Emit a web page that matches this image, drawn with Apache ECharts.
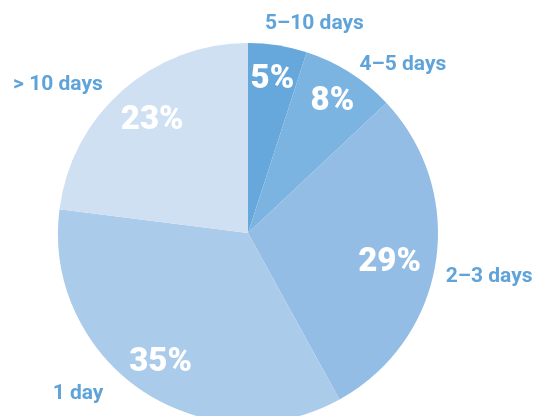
<!DOCTYPE html>
<html><head><meta charset="utf-8">
<script src="https://cdn.jsdelivr.net/npm/echarts@6/dist/echarts.min.js"></script>
<style>html,body{margin:0;padding:0;background:#fff}#c{width:534px;height:416px}</style>
</head><body><div id="c"></div>
<script>
const categories = ['5–10 days', '4–5 days', '2–3 days', '1 day', '> 10 days'];
const values = [5, 8, 29, 35, 23];
const colors = ['#66a8dc', '#7cb4e1', '#94bde5', '#aacbea', '#cee0f2'];
const outerOffsets = [[30, 21], [30, 28], [11, 7], [-39, -32], [-36, 27]];
const innerOffsets = [[0, 0], [1, 0], [-12, 5], [0, 1], [7, 4]];

const chart = echarts.init(document.getElementById('c'), null, {renderer: 'canvas'});
const font = 'Roboto';
const base = categories.map((c, i) => ({name: c, value: values[i], itemStyle: {color: colors[i]}}));
chart.setOption({
  animation: false,
  series: [
    {
      type: 'pie', center: [248, 233], radius: [0, 190], startAngle: 90, silent: true,
      data: base, label: {show: false}, labelLine: {show: false}
    },
    {
      type: 'pie', center: [248, 233], radius: [115, 190], startAngle: 90, silent: true,
      data: categories.map((c, i) => ({name: c, value: values[i], itemStyle: {color: 'transparent'},
        label: {offset: innerOffsets[i]}})),
      label: {show: true, position: 'inside', formatter: p => p.value + '%', color: '#fff',
        fontFamily: font, fontWeight: 900, fontSize: 33},
      labelLine: {show: false}
    },
    {
      type: 'pie', center: [248, 233], radius: [200, 260], startAngle: 90, silent: true,
      data: categories.map((c, i) => ({name: c, value: values[i], itemStyle: {color: 'transparent'},
        label: {offset: outerOffsets[i]}})),
      label: {show: true, position: 'inside', formatter: '{b}', color: '#5fa3d9',
        fontFamily: font, fontWeight: 'bold', fontSize: 21},
      labelLine: {show: false}
    }
  ]
});
</script></body></html>
